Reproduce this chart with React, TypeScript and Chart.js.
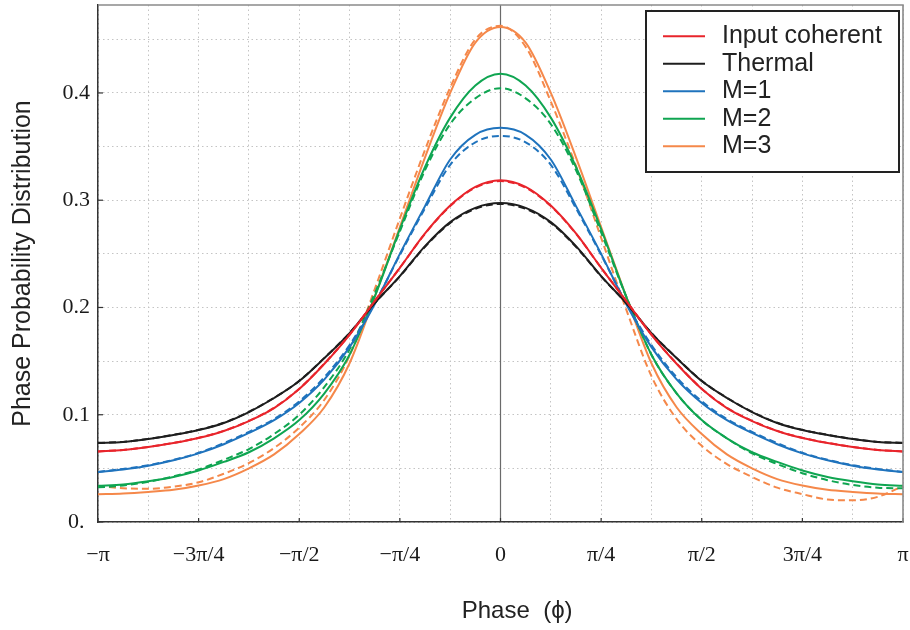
import React, { useEffect, useRef } from "react";
import { Chart, registerables } from "chart.js";

Chart.register(...registerables);

// Sample phases, in sixteenths of pi, from -pi to pi
const phaseSixteenths = [
  -16, -15, -14, -13, -12, -11, -10, -9, -8, -7, -6, -5, -4, -3, -2, -1, 0,
  1, 2, 3, 4, 5, 6, 7, 8, 9, 10, 11, 12, 13, 14, 15, 16,
];

// Grid lines every pi/8, labels every pi/4
const xGridEighths = [-8, -7, -6, -5, -4, -3, -2, -1, 0, 1, 2, 3, 4, 5, 6, 7, 8];
const xLabelQuarters = [-4, -3, -2, -1, 0, 1, 2, 3, 4];
const xTickLabels = ["\u2212\u03c0", "\u22123\u03c0/4", "\u2212\u03c0/2", "\u2212\u03c0/4", "0", "\u03c0/4", "\u03c0/2", "3\u03c0/4", "\u03c0"];

const yGridValues = [0, 0.05, 0.1, 0.15, 0.2, 0.25, 0.3, 0.35, 0.4, 0.45];
const yMajorValues = [0, 0.1, 0.2, 0.3, 0.4];
const yMajorLabels = ["0.", "0.1", "0.2", "0.3", "0.4"];

const seriesLabels = ["Input coherent", "Thermal", "M=1", "M=2", "M=3"];
const seriesColors = ["#e8242b", "#1e1e1e", "#1f73bd", "#0fa551", "#f5884a"];

const coherentSolid = [0.0657, 0.0671, 0.0699, 0.0736, 0.0783, 0.0848, 0.0941, 0.1062, 0.1240, 0.1475, 0.1745, 0.2060, 0.2370, 0.2690, 0.2950, 0.3125, 0.3187, 0.3125, 0.2950, 0.2690, 0.2370, 0.2060, 0.1745, 0.1475, 0.1240, 0.1062, 0.0941, 0.0848, 0.0783, 0.0736, 0.0699, 0.0671, 0.0657];
const coherentDashed = [0.0658, 0.0672, 0.0700, 0.0738, 0.0785, 0.0850, 0.0943, 0.1065, 0.1243, 0.1478, 0.1748, 0.2062, 0.2370, 0.2688, 0.2945, 0.3117, 0.3178, 0.3117, 0.2945, 0.2688, 0.2370, 0.2062, 0.1748, 0.1478, 0.1243, 0.1065, 0.0943, 0.0850, 0.0785, 0.0738, 0.0700, 0.0672, 0.0658];

const thermalSolid = [0.0736, 0.0746, 0.0773, 0.0811, 0.0857, 0.0923, 0.1025, 0.1156, 0.1314, 0.1528, 0.1761, 0.2041, 0.2293, 0.2572, 0.2796, 0.2929, 0.2973, 0.2929, 0.2796, 0.2572, 0.2293, 0.2041, 0.1761, 0.1528, 0.1314, 0.1156, 0.1025, 0.0923, 0.0857, 0.0811, 0.0773, 0.0746, 0.0736];
const thermalDashed = [0.0738, 0.0747, 0.0775, 0.0813, 0.0859, 0.0925, 0.1027, 0.1158, 0.1316, 0.1530, 0.1762, 0.2040, 0.2290, 0.2566, 0.2788, 0.2920, 0.2965, 0.2920, 0.2788, 0.2566, 0.2290, 0.2040, 0.1762, 0.1530, 0.1316, 0.1158, 0.1027, 0.0925, 0.0859, 0.0813, 0.0775, 0.0747, 0.0738];

const m1Solid = [0.0466, 0.049, 0.0525, 0.0575, 0.064, 0.0725, 0.083, 0.095, 0.111, 0.133, 0.163, 0.203, 0.250, 0.2945, 0.338, 0.361, 0.3675, 0.361, 0.338, 0.2945, 0.250, 0.203, 0.163, 0.133, 0.111, 0.095, 0.083, 0.0725, 0.064, 0.0575, 0.0525, 0.049, 0.0466];
const m1Dashed = [0.0467, 0.0495, 0.053, 0.058, 0.0645, 0.0735, 0.084, 0.096, 0.1125, 0.135, 0.165, 0.204, 0.249, 0.2925, 0.333, 0.354, 0.360, 0.354, 0.333, 0.2925, 0.249, 0.204, 0.165, 0.135, 0.1125, 0.096, 0.084, 0.0735, 0.0645, 0.058, 0.053, 0.0495, 0.0467];

const m2Solid = [0.0338, 0.035, 0.038, 0.042, 0.048, 0.056, 0.065, 0.078, 0.095, 0.120, 0.156, 0.210, 0.273, 0.331, 0.377, 0.407, 0.418, 0.407, 0.377, 0.331, 0.273, 0.210, 0.156, 0.120, 0.095, 0.078, 0.065, 0.056, 0.048, 0.042, 0.038, 0.035, 0.0338];
const m2Dashed = [0.0323, 0.034, 0.0375, 0.0425, 0.049, 0.058, 0.068, 0.082, 0.100, 0.126, 0.161, 0.213, 0.271, 0.328, 0.371, 0.395, 0.4045, 0.395, 0.371, 0.328, 0.270, 0.210, 0.156, 0.120, 0.095, 0.078, 0.064, 0.054, 0.0455, 0.039, 0.0345, 0.032, 0.0314];

const m3Solid = [0.0258, 0.0265, 0.028, 0.030, 0.034, 0.040, 0.050, 0.063, 0.082, 0.107, 0.148, 0.210, 0.275, 0.340, 0.400, 0.447, 0.4616, 0.447, 0.400, 0.340, 0.275, 0.210, 0.148, 0.107, 0.082, 0.063, 0.050, 0.040, 0.034, 0.030, 0.028, 0.0265, 0.0258];
const m3Dashed = [0.0335, 0.0315, 0.031, 0.033, 0.037, 0.045, 0.055, 0.069, 0.088, 0.114, 0.155, 0.217, 0.283, 0.347, 0.405, 0.450, 0.4626, 0.443, 0.392, 0.332, 0.265, 0.198, 0.136, 0.096, 0.071, 0.054, 0.042, 0.032, 0.026, 0.021, 0.0202, 0.0235, 0.0336];

const solidSeries = [coherentSolid, thermalSolid, m1Solid, m2Solid, m3Solid];
const dashedSeries = [coherentDashed, thermalDashed, m1Dashed, m2Dashed, m3Dashed];

const Y_MAX = 0.482;

const toPoints = (vals: number[]) =>
  phaseSixteenths.map((s, i) => ({ x: (s * Math.PI) / 16, y: vals[i] }));

const frameAndLegend = {
  id: "frameAndLegend",
  beforeDatasetsDraw(chart: any) {
    const { ctx, chartArea, scales } = chart;
    const px = scales.x.getPixelForValue(0);
    ctx.save();
    ctx.strokeStyle = "#6a6a6a";
    ctx.lineWidth = 1.2;
    ctx.beginPath();
    ctx.moveTo(px, chartArea.top);
    ctx.lineTo(px, chartArea.bottom);
    ctx.stroke();
    ctx.restore();
  },
  afterDatasetsDraw(chart: any) {
    const { ctx, chartArea, scales } = chart;
    ctx.save();
    ctx.strokeStyle = "#333";
    ctx.lineWidth = 1.2;
    yMajorValues.forEach((v) => {
      const py = scales.y.getPixelForValue(v);
      ctx.beginPath();
      ctx.moveTo(chartArea.left, py);
      ctx.lineTo(chartArea.left + 5, py);
      ctx.stroke();
    });
    xLabelQuarters.forEach((q) => {
      const px = scales.x.getPixelForValue((q * Math.PI) / 4);
      ctx.beginPath();
      ctx.moveTo(px, chartArea.bottom);
      ctx.lineTo(px, chartArea.bottom - 4);
      ctx.stroke();
    });
    ctx.strokeStyle = "#8a8a8a";
    ctx.lineWidth = 1.6;
    ctx.beginPath();
    ctx.moveTo(chartArea.left, chartArea.top);
    ctx.lineTo(chartArea.right, chartArea.top);
    ctx.lineTo(chartArea.right, chartArea.bottom);
    ctx.stroke();
    ctx.restore();
  },
  afterDraw(chart: any) {
    const { ctx, chartArea } = chart;
    const w = 253;
    const h = 161;
    const bx = chartArea.right - 4 - w;
    const by = chartArea.top + 6;
    ctx.save();
    ctx.fillStyle = "#ffffff";
    ctx.fillRect(bx, by, w, h);
    ctx.strokeStyle = "#222";
    ctx.lineWidth = 2;
    ctx.strokeRect(bx, by, w, h);
    const items = chart.data.datasets.filter((d: any) => !d.isDashed);
    items.forEach((d: any, i: number) => {
      const y = by + 25.3 + i * 27.5;
      ctx.strokeStyle = d.borderColor;
      ctx.lineWidth = 2;
      ctx.beginPath();
      ctx.moveTo(bx + 17, y);
      ctx.lineTo(bx + 59, y);
      ctx.stroke();
      ctx.fillStyle = "#222";
      ctx.font = '25px "Liberation Sans"';
      ctx.textBaseline = "middle";
      ctx.textAlign = "left";
      ctx.fillText(d.label, bx + 76, y);
    });
    ctx.restore();
  },
};

const zeroPaddings = (scale: any) => {
  scale.paddingLeft = 0;
  scale.paddingRight = 0;
  scale.paddingTop = 0;
  scale.paddingBottom = 0;
};

export default function App() {
  const ref = useRef<HTMLCanvasElement | null>(null);

  useEffect(() => {
    if (!ref.current) return;
    const datasets: any[] = [];
    seriesLabels.forEach((label, i) => {
      datasets.push({
        label,
        data: toPoints(solidSeries[i]),
        borderColor: seriesColors[i],
        borderWidth: 2,
        pointRadius: 0,
        fill: false,
        cubicInterpolationMode: "monotone",
        isDashed: false,
      });
      datasets.push({
        label: label + " (dashed)",
        data: toPoints(dashedSeries[i]),
        borderColor: seriesColors[i],
        borderWidth: 2,
        borderDash: [7, 4],
        pointRadius: 0,
        fill: false,
        cubicInterpolationMode: "monotone",
        isDashed: true,
      });
    });

    const chart = new Chart(ref.current, {
      type: "line",
      data: { datasets },
      plugins: [frameAndLegend],
      options: {
        animation: false,
        responsive: false,
        devicePixelRatio: 1,
        layout: { padding: { top: 5, right: 7, left: 0, bottom: 0 } },
        plugins: { legend: { display: false }, tooltip: { enabled: false } },
        scales: {
          x: {
            type: "linear",
            min: -Math.PI,
            max: Math.PI,
            afterBuildTicks: (scale: any) => {
              scale.ticks = xGridEighths.map((e) => ({ value: (e * Math.PI) / 8 }));
            },
            afterFit: (scale: any) => {
              scale.height = 108;
              zeroPaddings(scale);
            },
            grid: { color: "#c4c4c4", lineWidth: 1, drawTicks: false },
            border: { display: true, color: "#333", width: 1.5, dash: [1.5, 3] },
            ticks: {
              autoSkip: false,
              maxRotation: 0,
              minRotation: 0,
              padding: 20,
              color: "#1a1a1a",
              font: { family: '"Liberation Serif"', size: 22 },
              callback: (value: any) => {
                const q = Math.round(value / (Math.PI / 4));
                if (Math.abs(value - (q * Math.PI) / 4) < 1e-6) {
                  const idx = xLabelQuarters.indexOf(q);
                  return idx >= 0 ? xTickLabels[idx] : "";
                }
                return "";
              },
            },
            title: {
              display: true,
              text: "     Phase  (\u03d5)",
              color: "#222",
              font: { family: '"Liberation Sans"', size: 24 },
              padding: { top: 0, bottom: 4 },
            },
          },
          y: {
            type: "linear",
            min: 0,
            max: Y_MAX,
            afterBuildTicks: (scale: any) => {
              scale.ticks = yGridValues.map((v) => ({ value: v }));
            },
            afterFit: (scale: any) => {
              scale.width = 98;
              zeroPaddings(scale);
            },
            grid: { color: "#c4c4c4", lineWidth: 1, drawTicks: false },
            border: { display: true, color: "#333", width: 1.5, dash: [1.5, 3] },
            ticks: {
              autoSkip: false,
              crossAlign: "center",
              padding: 8,
              color: "#1a1a1a",
              font: { family: '"Liberation Serif"', size: 22 },
              callback: (value: any) => {
                const idx = yMajorValues.findIndex((m) => Math.abs(m - value) < 1e-6);
                return idx >= 0 ? yMajorLabels[idx] : "";
              },
            },
            title: {
              display: true,
              text: "Phase Probability Distribution",
              color: "#222",
              font: { family: '"Liberation Sans"', size: 25 },
              padding: { top: 8, bottom: 0 },
            },
          },
        },
      } as any,
    });
    return () => chart.destroy();
  }, []);

  return (
    <canvas
      ref={ref}
      width={910}
      height={630}
      style={{ position: "fixed", left: 0, top: 0, width: 910, height: 630, background: "#fff" }}
    />
  );
}
